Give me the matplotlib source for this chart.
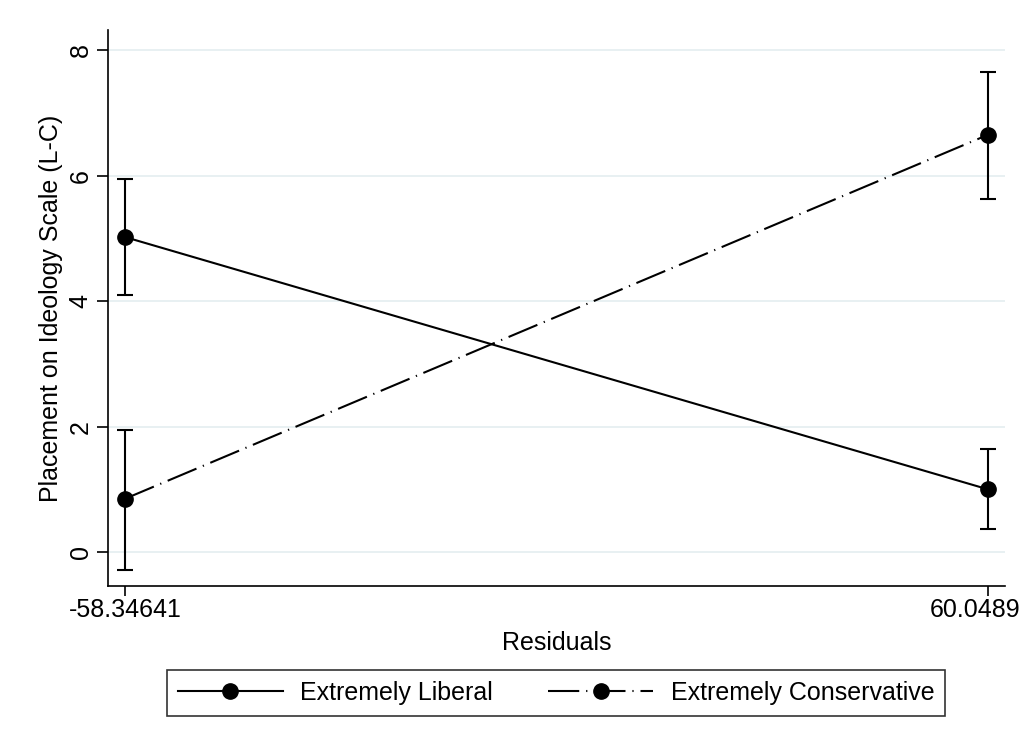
import matplotlib.pyplot as plt
import matplotlib.transforms as mtransforms
from matplotlib.lines import Line2D

plt.rcParams['font.family'] = ['Liberation Sans', 'DejaVu Sans']

# residual values at the two ends of the range
residuals = [-58.34641, 60.0489]
tick_labels = ['-58.34641', '60.0489']

# predicted placement with confidence bounds
liberal = [5.02, 1.00]
liberal_lo = [4.09, 0.37]
liberal_hi = [5.95, 1.65]

conservative = [0.85, 6.65]
conservative_lo = [-0.28, 5.63]
conservative_hi = [1.95, 7.65]

fig = plt.figure(figsize=(10.26, 7.48), dpi=100)
ax = fig.add_axes([0.1053, 0.2166, 0.8742, 0.7433])

dash_dot = (0, (15, 3.3, 0.6, 3.3))

def draw(y, lo, hi, ls):
    yerr = [[v - l for v, l in zip(y, lo)], [h - v for v, h in zip(y, hi)]]
    ax.errorbar(residuals, y, yerr=yerr, fmt='none', ecolor='black',
                elinewidth=1.5, capsize=6, capthick=1.5, zorder=3)
    ax.plot(residuals, y, color='black', linestyle=ls, linewidth=1.5,
            marker='o', markersize=11, zorder=4)

draw(liberal, liberal_lo, liberal_hi, '-')
draw(conservative, conservative_lo, conservative_hi, dash_dot)

ax.set_xlim(-60.68, 62.38)
ax.set_ylim(-0.54, 8.32)
ax.set_xticks(residuals)
ax.set_xticklabels(tick_labels)
ax.set_yticks([0, 2, 4, 6, 8])
for lbl in ax.get_yticklabels():
    lbl.set_rotation(90)
    lbl.set_va('center')

ax.grid(axis='y', color='#e6eff1', linewidth=1.3)
ax.set_axisbelow(True)
for s in ['top', 'right']:
    ax.spines[s].set_visible(False)
for s in ['left', 'bottom']:
    ax.spines[s].set_linewidth(1.2)
ax.tick_params(axis='both', labelsize=18, width=1.2, colors='black')
ax.tick_params(axis='x', length=7, pad=2)
ax.tick_params(axis='y', length=8, pad=3)

# nudge the right-hand tick label so it stays inside the figure
last = ax.get_xticklabels()[-1]
last.set_transform(last.get_transform() +
                   mtransforms.ScaledTranslation(-9 / 72, 0, fig.dpi_scale_trans))

ax.set_xlabel('Residuals', fontsize=18, labelpad=6)
ax.set_ylabel('Placement on Ideology Scale (L-C)', fontsize=18, labelpad=4)

handles = [
    Line2D([], [], color='black', linestyle='-', linewidth=1.5,
           marker='o', markersize=11),
    Line2D([], [], color='black', linestyle=dash_dot, linewidth=1.5,
           marker='o', markersize=11),
]
leg = fig.legend(handles, ['Extremely Liberal', 'Extremely Conservative'],
                 loc='center', bbox_to_anchor=(0.5419, 0.0735), ncol=2,
                 fontsize=18, frameon=True, fancybox=False, edgecolor='black',
                 handlelength=4.2, handletextpad=0.7, columnspacing=2.2,
                 borderpad=0.45)
leg.get_frame().set_linewidth(1.2)

fig.savefig('out.png', dpi=100, facecolor='white')
